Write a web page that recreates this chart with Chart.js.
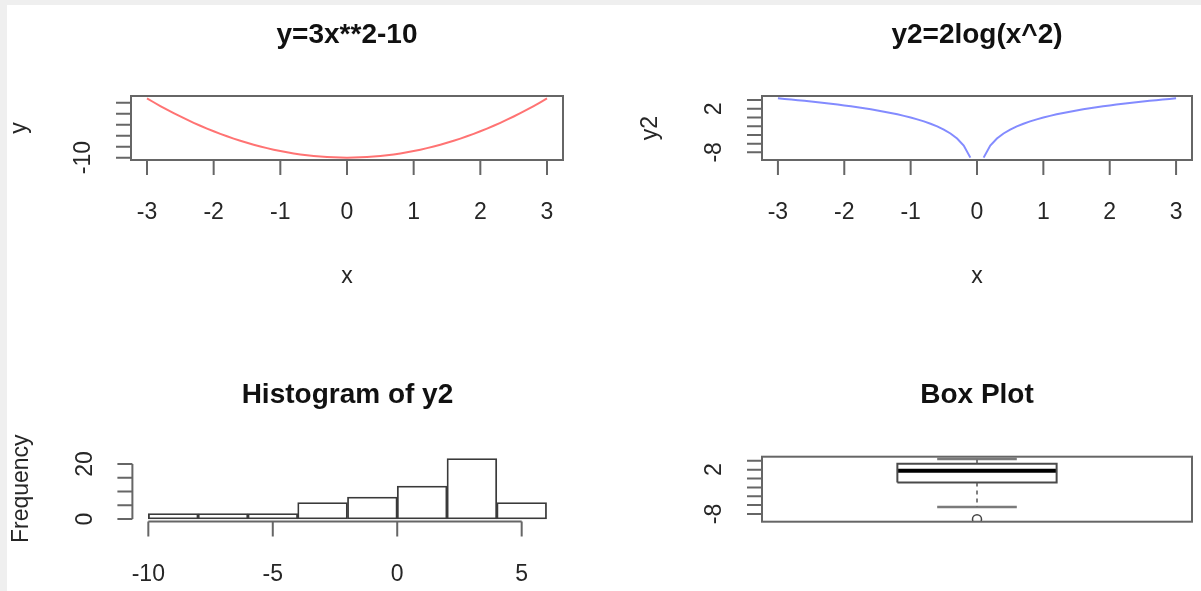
<!DOCTYPE html>
<html>
<head>
<meta charset="utf-8">
<script src="https://cdn.jsdelivr.net/npm/chart.js@4.4.1/dist/chart.umd.min.js"></script>
<style>
  body { margin: 0; width: 1201px; height: 591px; background: #efefef; position: relative; overflow: hidden; }
  #paper { position: absolute; left: 7px; top: 5px; right: 0; bottom: 0; background: #fff; }
  canvas { position: absolute; }
</style>
</head>
<body>
<div id="paper"></div>
<canvas id="quad" width="600" height="300" style="left:0;top:0"></canvas>
<canvas id="logc" width="601" height="300" style="left:600px;top:0"></canvas>
<canvas id="hist" width="600" height="291" style="left:0;top:300px"></canvas>
<canvas id="boxp" width="601" height="291" style="left:600px;top:300px"></canvas>
<script>
// x grid used for both curves
const xs = [-3, -2.9, -2.8, -2.7, -2.6, -2.5, -2.4, -2.3, -2.2, -2.1, -2, -1.9, -1.8, -1.7, -1.6, -1.5,
  -1.4, -1.3, -1.2, -1.1, -1, -0.9, -0.8, -0.7, -0.6, -0.5, -0.4, -0.3, -0.2, -0.1, 0,
  0.1, 0.2, 0.3, 0.4, 0.5, 0.6, 0.7, 0.8, 0.9, 1, 1.1, 1.2, 1.3, 1.4, 1.5, 1.6, 1.7, 1.8, 1.9, 2,
  2.1, 2.2, 2.3, 2.4, 2.5, 2.6, 2.7, 2.8, 2.9, 3];

// y = 3x**2 - 10
const yQuad = [17, 15.23, 13.52, 11.87, 10.28, 8.75, 7.28, 5.87, 4.52, 3.23, 2, 0.83, -0.28, -1.33, -2.32,
  -3.25, -4.12, -4.93, -5.68, -6.37, -7, -7.57, -8.08, -8.53, -8.92, -9.25, -9.52, -9.73, -9.88, -9.97, -10,
  -9.97, -9.88, -9.73, -9.52, -9.25, -8.92, -8.53, -8.08, -7.57, -7, -6.37, -5.68, -4.93, -4.12, -3.25,
  -2.32, -1.33, -0.28, 0.83, 2, 3.23, 4.52, 5.87, 7.28, 8.75, 10.28, 11.87, 13.52, 15.23, 17];

// y2 = 2log(x^2), no value at x = 0
const yLog = [4.394, 4.259, 4.118, 3.973, 3.822, 3.665, 3.502, 3.332, 3.154, 2.968, 2.773, 2.567, 2.351,
  2.123, 1.880, 1.622, 1.346, 1.049, 0.729, 0.381, 0, -0.421, -0.893, -1.427, -2.043, -2.773, -3.665,
  -4.816, -6.438, -9.210, null,
  -9.210, -6.438, -4.816, -3.665, -2.773, -2.043, -1.427, -0.893, -0.421, 0, 0.381, 0.729, 1.049, 1.346,
  1.622, 1.880, 2.123, 2.351, 2.567, 2.773, 2.968, 3.154, 3.332, 3.502, 3.665, 3.822, 3.973, 4.118,
  4.259, 4.394];

const histBreaks = [-10, -8, -6, -4, -2, 0, 2, 4, 6];
const histCounts = [2, 2, 2, 6, 8, 12, 22, 6];

// lower whisker, lower hinge, median, upper hinge, upper whisker
const boxStats = [-6.438, -0.893, 1.751, 3.332, 4.394];
const boxOutliers = [-9.21];

const curveXTicks = [-3, -2, -1, 0, 1, 2, 3];
const curveXLabels = ['-3', '-2', '-1', '0', '1', '2', '3'];
const quadYTicks = [-10, -5, 0, 5, 10, 15];
const quadYLabels = ['-10', '', '', '', '', ''];
const logYTicks = [-8, -6, -4, -2, 0, 2, 4];
const logYLabels = ['-8', '', '', '', '', '2', ''];
const histXTicks = [-10, -5, 0, 5];
const histXLabels = ['-10', '-5', '0', '5'];
const histYTicks = [0, 5, 10, 15, 20];
const histYLabels = ['0', '', '', '', '20'];

const FONT = '"Liberation Sans", Arial, sans-serif';

// base-graphics style frame, axes and labels drawn off the chart's own scales
const rAxes = {
  id: 'rAxes',
  afterDraw(chart, args, o) {
    const ctx = chart.ctx;
    const a = chart.chartArea;
    const sx = chart.scales.x;
    const sy = chart.scales.y;
    ctx.save();
    ctx.strokeStyle = '#666';
    ctx.lineWidth = 2;
    if (o.box) ctx.strokeRect(a.left, a.top, a.right - a.left, a.bottom - a.top);

    ctx.fillStyle = '#262626';
    ctx.textAlign = 'center';
    ctx.textBaseline = 'middle';
    ctx.font = '23px ' + FONT;

    if (o.xTicks) {
      const y0 = a.bottom;
      ctx.beginPath();
      ctx.moveTo(sx.getPixelForValue(o.xTicks[0]), y0);
      ctx.lineTo(sx.getPixelForValue(o.xTicks[o.xTicks.length - 1]), y0);
      for (let t of o.xTicks) {
        const px = sx.getPixelForValue(t);
        ctx.moveTo(px, y0);
        ctx.lineTo(px, y0 + 15);
      }
      ctx.stroke();
      o.xTicks.forEach((t, i) => {
        if (o.xLabels[i]) ctx.fillText(o.xLabels[i], sx.getPixelForValue(t), y0 + 53);
      });
    }

    if (o.yTicks) {
      const x0 = a.left;
      ctx.beginPath();
      ctx.moveTo(x0, sy.getPixelForValue(o.yTicks[0]));
      ctx.lineTo(x0, sy.getPixelForValue(o.yTicks[o.yTicks.length - 1]));
      for (let t of o.yTicks) {
        const py = sy.getPixelForValue(t);
        ctx.moveTo(x0, py);
        ctx.lineTo(x0 - 15, py);
      }
      ctx.stroke();
      o.yTicks.forEach((t, i) => {
        if (!o.yLabels[i]) return;
        ctx.save();
        ctx.translate(x0 - 47, sy.getPixelForValue(t));
        ctx.rotate(-Math.PI / 2);
        ctx.fillText(o.yLabels[i], 0, 0);
        ctx.restore();
      });
    }

    const cx = (a.left + a.right) / 2;
    const cy = (a.top + a.bottom) / 2;
    if (o.xlab) ctx.fillText(o.xlab, cx, a.bottom + 117);
    if (o.ylab) {
      ctx.save();
      ctx.translate(a.left - 111, cy);
      ctx.rotate(-Math.PI / 2);
      ctx.fillText(o.ylab, 0, 0);
      ctx.restore();
    }
    if (o.title) {
      ctx.fillStyle = '#111';
      ctx.font = 'bold 28px ' + FONT;
      ctx.fillText(o.title, cx, a.top - 61);
    }
    ctx.restore();
  }
};

function baseOptions(xRange, yRange, pad, axes) {
  return {
    responsive: false,
    animation: false,
    events: [],
    layout: { padding: pad },
    plugins: {
      legend: { display: false },
      tooltip: { enabled: false },
      rAxes: axes
    },
    scales: {
      x: { type: 'linear', display: false, offset: false, min: xRange[0], max: xRange[1], ticks: { includeBounds: false, stepSize: 2 } },
      y: { type: 'linear', display: false, min: yRange[0], max: yRange[1] }
    }
  };
}

function points(xArr, yArr) {
  return xArr.map((x, i) => ({ x: x, y: yArr[i] }));
}

function curveChart(id, yArr, colour, yRange, pad, axes) {
  return new Chart(document.getElementById(id), {
    type: 'line',
    data: {
      datasets: [{
        data: points(xs, yArr),
        borderColor: colour,
        borderWidth: 2,
        pointRadius: 0,
        tension: 0,
        spanGaps: false
      }]
    },
    options: baseOptions([-3.24, 3.24], yRange, pad, axes),
    plugins: [rAxes]
  });
}

curveChart('quad', yQuad, 'rgba(255,80,80,0.8)', [-11.08, 18.08],
  { left: 131, top: 96, right: 37, bottom: 140 },
  { box: true, title: 'y=3x**2-10', xlab: 'x', ylab: 'y',
    xTicks: curveXTicks, xLabels: curveXLabels, yTicks: quadYTicks, yLabels: quadYLabels });

curveChart('logc', yLog, 'rgba(100,110,255,0.8)', [-9.754, 4.938],
  { left: 162, top: 96, right: 9, bottom: 140 },
  { box: true, title: 'y2=2log(x^2)', xlab: 'x', ylab: 'y2',
    xTicks: curveXTicks, xLabels: curveXLabels, yTicks: logYTicks, yLabels: logYLabels });

// histogram of y2
let histData = [];
for (let i = 0; i < histCounts.length; i++) {
  histData.push({ x: (histBreaks[i] + histBreaks[i + 1]) / 2, y: histCounts[i] });
}
new Chart(document.getElementById('hist'), {
  type: 'bar',
  data: {
    datasets: [{
      data: histData,
      backgroundColor: '#ffffff',
      borderColor: '#3a3a3a',
      borderWidth: 1.8,
      borderSkipped: false,
      barPercentage: 1,
      categoryPercentage: 1
    }]
  },
  options: baseOptions([-10.64, 6.64], [-0.88, 22.88],
    { left: 132.4, top: 156.1, right: 37.5, bottom: 69.6 },
    { box: false, title: 'Histogram of y2', ylab: 'Frequency',
      xTicks: histXTicks, xLabels: histXLabels, yTicks: histYTicks, yLabels: histYLabels }),
  plugins: [rAxes]
});

// box plot of y2
const lo = boxStats[0], q1 = boxStats[1], med = boxStats[2], q3 = boxStats[3], hi = boxStats[4];
function seg(points, colour, width, dash) {
  return { data: points, borderColor: colour, borderWidth: width, borderDash: dash || [], pointRadius: 0, tension: 0 };
}
new Chart(document.getElementById('boxp'), {
  type: 'line',
  data: {
    datasets: [
      seg([{ x: 1, y: q3 }, { x: 1, y: hi }], '#555', 1.5, [4, 4]),
      seg([{ x: 1, y: q1 }, { x: 1, y: lo }], '#555', 1.5, [4, 4]),
      seg([{ x: 0.9, y: hi }, { x: 1.1, y: hi }], '#7a7a7a', 2.5),
      seg([{ x: 0.9, y: lo }, { x: 1.1, y: lo }], '#7a7a7a', 2.5),
      seg([{ x: 0.8, y: q1 }, { x: 1.2, y: q1 }, { x: 1.2, y: q3 }, { x: 0.8, y: q3 }, { x: 0.8, y: q1 }], '#4a4a4a', 2),
      seg([{ x: 0.8, y: med }, { x: 1.2, y: med }], '#000', 4),
      {
        data: boxOutliers.map(v => ({ x: 1, y: v })),
        showLine: false,
        pointRadius: 4.5,
        pointBorderWidth: 1.5,
        pointBorderColor: '#444',
        pointBackgroundColor: 'rgba(0,0,0,0)'
      }
    ]
  },
  options: baseOptions([0.46, 1.54], [-9.754, 4.938],
    { left: 162, top: 156.7, right: 9, bottom: 69.3 },
    { box: true, title: 'Box Plot', yTicks: logYTicks, yLabels: logYLabels }),
  plugins: [rAxes]
});
</script>
</body>
</html>
